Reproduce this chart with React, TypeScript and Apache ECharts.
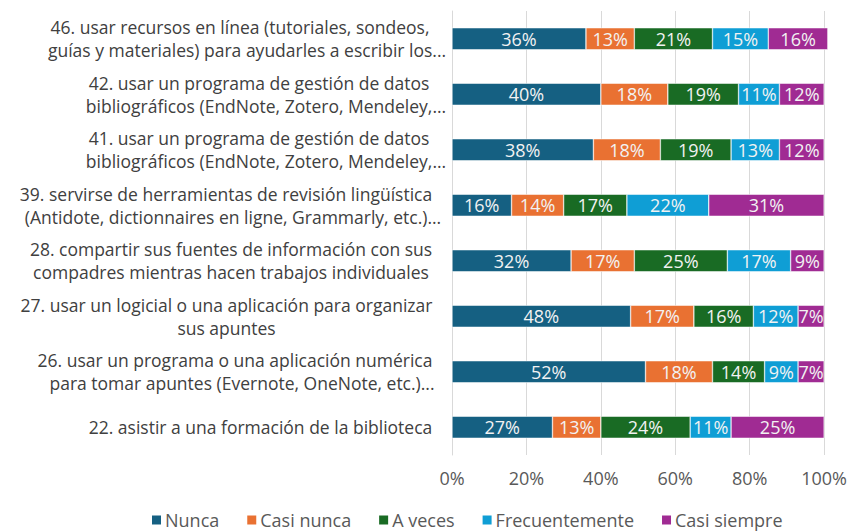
import React, { useEffect, useRef } from "react";
import * as echarts from "echarts";

const categories = [
  "46. usar recursos en línea (tutoriales, sondeos,\nguías y materiales) para ayudarles a escribir los...",
  "42. usar un programa de gestión de datos\nbibliográficos (EndNote, Zotero, Mendeley,...",
  "41. usar un programa de gestión de datos\nbibliográficos (EndNote, Zotero, Mendeley,...",
  "39. servirse de herramientas de revisión lingüística\n(Antidote, dictionnaires en ligne, Grammarly, etc.)...",
  "28. compartir sus fuentes de información con sus\ncompadres mientras hacen trabajos individuales",
  "27. usar un logicial o una aplicación para organizar\nsus apuntes",
  "26. usar un programa o una aplicación numérica\npara tomar apuntes (Evernote, OneNote, etc.)...",
  "22. asistir a una formación de la biblioteca",
];

const seriesNames = ["Nunca", "Casi nunca", "A veces", "Frecuentemente", "Casi siempre"];
const nunca = [36, 40, 38, 16, 32, 48, 52, 27];
const casiNunca = [13, 18, 18, 14, 17, 17, 18, 13];
const aVeces = [21, 19, 19, 17, 25, 16, 14, 24];
const frecuentemente = [15, 11, 13, 22, 17, 12, 9, 11];
const casiSiempre = [16, 12, 12, 31, 9, 7, 7, 25];
const tickLabels = ["0%", "20%", "40%", "60%", "80%", "100%"];

const colors = ["#156082", "#E97132", "#196B24", "#0F9ED5", "#A02B93"];

const FONT = "'Open Sans', sans-serif";
const CAT_SIZE = 17.5;

export default function App() {
  const ref = useRef<HTMLDivElement>(null);
  useEffect(() => {
    if (!ref.current) return;
    const canvas = document.createElement("canvas");
    const ctx = canvas.getContext("2d");
    const measure = (t: string) => {
      if (!ctx) return t.length * 8.2;
      ctx.font = `${CAT_SIZE}px ${FONT}`;
      return ctx.measureText(t).width;
    };
    const dotsW = Math.ceil(measure("..."));
    const lineStyle = { fontSize: CAT_SIZE, lineHeight: 23, color: "#404040", fontFamily: FONT };
    const rich: Record<string, any> = {
      t: { ...lineStyle, align: "center" },
      d: { ...lineStyle, align: "center" },
      p: { ...lineStyle, width: dotsW, align: "right" },
    };
    categories.forEach((c, i) => {
      const w = Math.max(
        ...c.split("\n").map((l) => measure(l.endsWith("...") ? l.slice(0, -3) : l))
      );
      rich["b" + i] = { ...lineStyle, width: Math.ceil(w) + 1, align: "center" };
    });

    const chart = echarts.init(ref.current, null, { renderer: "svg" });
    const values = [nunca, casiNunca, aVeces, frecuentemente, casiSiempre];
    chart.setOption({
      animation: false,
      color: colors,
      textStyle: { fontFamily: FONT },
      grid: { left: 452, right: 24, top: 11, bottom: 76, containLabel: false },
      legend: {
        bottom: 2,
        left: 150,
        padding: 0,
        itemWidth: 11,
        itemHeight: 11,
        itemGap: 26,
        icon: "rect",
        textStyle: { fontSize: 18, color: "#595959", fontFamily: FONT, padding: [0, 0, 0, -2] },
        data: seriesNames,
      },
      xAxis: {
        type: "value",
        min: 0,
        max: 100,
        interval: 20,
        axisLabel: {
          fontSize: 18,
          color: "#595959",
          margin: 14,
          formatter: (v: number) => tickLabels[Math.round(v / 20)],
        },
        splitLine: { lineStyle: { color: "#d9d9d9", width: 1 } },
        axisLine: { show: false },
        axisTick: { show: false },
      },
      yAxis: {
        type: "category",
        inverse: true,
        data: categories,
        axisTick: { show: false },
        axisLine: { show: true, lineStyle: { color: "#d9d9d9" } },
        axisLabel: {
          margin: 5,
          align: "right",
          formatter: (v: string, idx: number) =>
            v
              .split("\n")
              .map((l) =>
                l.endsWith("...")
                  ? `{t|${l.slice(0, -3)}}{d|...}`
                  : `{b${idx}|${l}}{p| }`
              )
              .join("\n"),
          rich,
        },
      },
      series: seriesNames.map((name, i) => ({
        name,
        type: "bar",
        stack: "total",
        clip: false,
        barWidth: 22,
        data: values[i],
        label: {
          show: true,
          position: "inside",
          formatter: "{c}%",
          color: "#f2f2f2",
          fontSize: 18,
          fontFamily: FONT,
        },
        itemStyle: { borderColor: "#ffffff", borderWidth: 0.5 },
      })),
    });
    return () => chart.dispose();
  }, []);
  return <div ref={ref} style={{ width: 850, height: 531, position: "absolute", left: 0, top: 0 }} />;
}
